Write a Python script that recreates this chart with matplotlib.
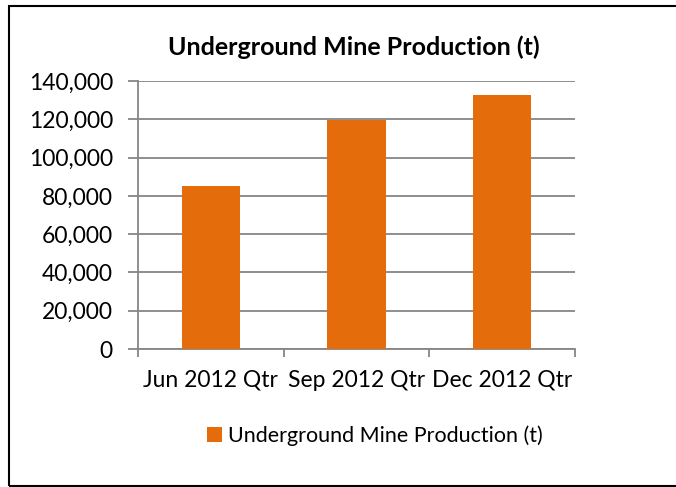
import matplotlib
matplotlib.use("Agg")
import matplotlib.pyplot as plt
from matplotlib.patches import Rectangle
from matplotlib.ticker import FuncFormatter, FixedLocator

quarters = ["Jun 2012 Qtr", "Sep 2012 Qtr", "Dec 2012 Qtr"]
production = [85000, 119500, 132800]
series_name = "Underground Mine Production (t)"
yticks = [0, 20000, 40000, 60000, 80000, 100000, 120000, 140000]

plt.rcParams['font.family'] = ['Lato', 'DejaVu Sans']

W, H = 676, 487
fig = plt.figure(figsize=(W / 100, H / 100), dpi=100)
fig.patch.set_facecolor("white")

# outer chart frame (right edge runs off the image)
fig.add_artist(Rectangle((9 / W, 1 - 486 / H), 700 / W, 480 / H,
                         transform=fig.transFigure, fill=False,
                         edgecolor="black", linewidth=1.5))

ax = fig.add_axes([138 / W, 1 - 349 / H, (575 - 138) / W, (349 - 81) / H])
x = list(range(len(quarters)))
ax.bar(x, production, width=0.4, color="#E46C0A", zorder=3, label=series_name)

ax.set_xlim(-0.5, 2.5)
ax.set_ylim(0, 140000)
ax.set_yticks(yticks)
ax.yaxis.set_major_formatter(FuncFormatter(lambda v, p: f"{int(v):,}"))
ax.grid(axis="y", color="#868686", linewidth=1.3, zorder=0)
ax.set_axisbelow(True)

ax.set_xticks(x)
ax.set_xticklabels(quarters)
ax.xaxis.set_minor_locator(FixedLocator([-0.5, 0.5, 1.5, 2.5]))
ax.tick_params(axis="x", which="major", length=0, pad=15, labelsize=16.5)
ax.tick_params(axis="x", which="minor", length=6, color="#868686", width=1.3)
ax.tick_params(axis="y", length=7, color="#868686", width=1.3, labelsize=16.5, pad=11)

for s in ["top", "right"]:
    ax.spines[s].set_visible(False)
for s in ["left", "bottom"]:
    ax.spines[s].set_color("#868686")
    ax.spines[s].set_linewidth(1.3)

fig.text(354 / W, 1 - 47 / H, series_name, ha="center", va="center",
         fontsize=18, fontweight="bold")

ax.legend(loc="center", bbox_to_anchor=(375 / W, 1 - 436 / H),
          bbox_transform=fig.transFigure, frameon=False, fontsize=15.5,
          handlelength=0.7, handleheight=0.7, handletextpad=0.3)

fig.savefig("out.png", dpi=100)
